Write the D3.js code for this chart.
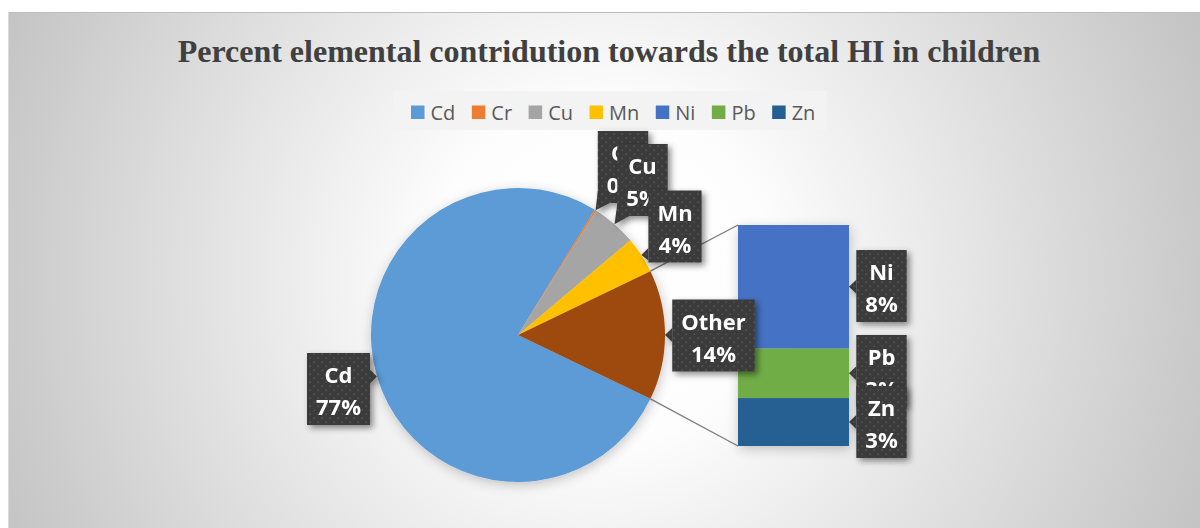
<!DOCTYPE html>
<html>
<head>
<meta charset="utf-8">
<script src="https://cdn.jsdelivr.net/npm/d3@7"></script>
<style>
  html, body { margin: 0; padding: 0; background: #ffffff; }
  svg { display: block; }
</style>
</head>
<body>
<svg id="chart" width="1200" height="528"></svg>
<script>
// Percent share of each element in the total hazard index (children)
const categories = ["Cd", "Cr", "Cu", "Mn", "Ni", "Pb", "Zn"];
const shares     = [76.6, 0.2, 4.9, 4.0, 8.0, 3.2, 3.1];
const colors     = ["#5b9bd5", "#ed7d31", "#a5a5a5", "#ffc000", "#4472c4", "#70ad47", "#255e91"];
// Elements split out of the pie into the stacked bar
const secondPlot = ["Ni", "Pb", "Zn"];
const otherName  = "Other";
const otherColor = "#9e480e";
const titleText  = "Percent elemental contridution towards the total HI in children";

const W = 1200, H = 528;
const svg = d3.select("#chart");
const defs = svg.append("defs");

// ---- background: radial grey gradient ----
const bg = defs.append("radialGradient").attr("id", "bgGrad")
  .attr("gradientUnits", "userSpaceOnUse")
  .attr("cx", 600).attr("cy", 275).attr("r", 680);
bg.append("stop").attr("offset", "0").attr("stop-color", "#ffffff");
bg.append("stop").attr("offset", "0.25").attr("stop-color", "#fdfdfd");
bg.append("stop").attr("offset", "1").attr("stop-color", "#c0c0c0");

// dotted texture for the data label boxes
const pat = defs.append("pattern").attr("id", "dots")
  .attr("patternUnits", "userSpaceOnUse").attr("width", 8).attr("height", 8);
pat.append("rect").attr("width", 8).attr("height", 8).attr("fill", "#3b3b3b");
pat.append("rect").attr("x", 1.5).attr("y", 1.5).attr("width", 1.4).attr("height", 1.4).attr("fill", "#575757");
pat.append("rect").attr("x", 5.5).attr("y", 5.5).attr("width", 1.4).attr("height", 1.4).attr("fill", "#575757");

const lblShadow = defs.append("filter").attr("id", "lblShadow")
  .attr("x", "-30%").attr("y", "-30%").attr("width", "170%").attr("height", "170%");
lblShadow.append("feDropShadow").attr("dx", 3).attr("dy", 3).attr("stdDeviation", 3)
  .attr("flood-color", "#000").attr("flood-opacity", 0.45);

const pieShadow = defs.append("filter").attr("id", "pieShadow")
  .attr("x", "-20%").attr("y", "-20%").attr("width", "140%").attr("height", "140%");
pieShadow.append("feDropShadow").attr("dx", 1).attr("dy", 3).attr("stdDeviation", 6)
  .attr("flood-color", "#000").attr("flood-opacity", 0.22);

svg.append("rect").attr("x", 8).attr("y", 12).attr("width", W - 8).attr("height", H - 12)
  .attr("fill", "url(#bgGrad)");
svg.append("line").attr("x1", 8).attr("x2", W).attr("y1", 12.5).attr("y2", 12.5)
  .attr("stroke", "#bdbdbd").attr("stroke-width", 1);
svg.append("line").attr("x1", 8.5).attr("x2", 8.5).attr("y1", 12).attr("y2", H)
  .attr("stroke", "#dadada").attr("stroke-width", 1);

// ---- title ----
svg.append("text").attr("x", 609).attr("y", 62).attr("text-anchor", "middle")
  .attr("font-family", "'Liberation Serif', 'Times New Roman', serif")
  .attr("font-weight", "bold").attr("font-size", 32).attr("fill", "#404040")
  .text(titleText);

// ---- legend ----
svg.append("rect").attr("x", 393).attr("y", 91).attr("width", 434).attr("height", 39)
  .attr("fill", "#f3f3f3");
const legend = svg.append("g").attr("font-family", "'Open Sans', sans-serif")
  .attr("font-size", 20).attr("fill", "#595959");
let lx = 411;
categories.forEach((c, i) => {
  legend.append("rect").attr("x", lx).attr("y", 105.5).attr("width", 13.5).attr("height", 13.5)
    .attr("fill", colors[i]);
  const t = legend.append("text").attr("x", lx + 19.5).attr("y", 119.5).text(c);
  lx += 19.5 + t.node().getComputedTextLength() + 16.5;
});

// ---- data prep ----
const total = d3.sum(shares);
const items = categories.map((c, i) => ({ name: c, value: shares[i], color: colors[i] }));
const secondItems = items.filter(d => secondPlot.includes(d.name));
const otherSum = d3.sum(secondItems, d => d.value);
const mainItems = items.filter(d => !secondPlot.includes(d.name))
  .concat([{ name: otherName, value: otherSum, color: otherColor }]);
const pct = d3.format(".0%");

// ---- main pie ----
const cx = 518, cy = 335, R = 147;
const otherAngle = 2 * Math.PI * otherSum / total;
const start = Math.PI / 2 + otherAngle / 2;
const pie = d3.pie().sort(null).value(d => d.value)
  .startAngle(start).endAngle(start + 2 * Math.PI);
const arcs = pie(mainItems);
const arc = d3.arc().innerRadius(0).outerRadius(R);
const onCircle = a => [cx + R * Math.sin(a), cy - R * Math.cos(a)];

// ---- secondary stacked bar ----
const barX0 = 738, barX1 = 849;
const yBar = d3.scaleLinear().domain([0, otherSum]).range([446, 225]);
let acc = 0;
const segs = secondItems.map(d => {
  const s = { ...d, top: yBar(otherSum - acc), bottom: yBar(otherSum - acc - d.value) };
  acc += d.value;
  return s;
});

// connector lines between the Other slice and the bar
const otherArc = arcs.find(a => a.data.name === otherName);
const pTop = onCircle(otherArc.startAngle);
const pBot = onCircle(otherArc.endAngle);
svg.append("line").attr("x1", pTop[0]).attr("y1", pTop[1]).attr("x2", barX0).attr("y2", yBar(otherSum))
  .attr("stroke", "#7f7f7f").attr("stroke-width", 1.4);
svg.append("line").attr("x1", pBot[0]).attr("y1", pBot[1]).attr("x2", barX0).attr("y2", yBar(0))
  .attr("stroke", "#7f7f7f").attr("stroke-width", 1.4);

svg.append("g").attr("transform", `translate(${cx},${cy})`).attr("filter", "url(#pieShadow)")
  .selectAll("path").data(arcs).join("path")
  .attr("d", arc).attr("fill", d => d.data.color);

svg.append("g").attr("filter", "url(#pieShadow)")
  .selectAll("rect").data(segs).join("rect")
  .attr("x", barX0).attr("width", barX1 - barX0)
  .attr("y", d => d.top).attr("height", d => d.bottom - d.top)
  .attr("fill", d => d.color);

// ---- data label callouts ----
const labelAt = {
  Cd: [338.5, 389], Cr: [623, 167], Cu: [642.5, 180], Mn: [675, 226.5],
  Other: [713.5, 335.5], Ni: [881.5, 286], Pb: [881.5, 371], Zn: [881.5, 422]
};
const labels = [];
arcs.forEach(a => {
  const mid = (a.startAngle + a.endAngle) / 2;
  labels.push({ name: a.data.name, text: pct(a.data.value / total), tip: onCircle(mid) });
});
segs.forEach(s => {
  labels.push({ name: s.name, text: pct(s.value / total), tip: [barX1, (s.top + s.bottom) / 2] });
});

function wedge(x0, y0, x1, y1, tx, ty) {
  const w = 7, c = 12;
  const clampY = v => Math.max(y0 + 2, Math.min(y1 - 2, v));
  const clampX = v => Math.max(x0 + 2, Math.min(x1 - 2, v));
  const left = tx < x0, right = tx > x1, above = ty < y0, below = ty > y1;
  if ((left || right) && (above || below)) {
    const ex = left ? x0 : x1, ey = above ? y0 : y1;
    const b1 = [ex, ey + (above ? c : -c)];
    const b2 = [ex + (left ? c : -c), ey];
    return [b1, [tx, ty], b2];
  }
  if (left || right) {
    const ex = left ? x0 : x1;
    return [[ex, clampY(ty - w)], [tx, ty], [ex, clampY(ty + w)]];
  }
  const ey = above ? y0 : y1;
  return [[clampX(tx - w), ey], [tx, ty], [clampX(tx + w), ey]];
}

const lblLayer = svg.append("g").attr("font-family", "'Open Sans', sans-serif")
  .attr("font-weight", 700).attr("font-size", 22).attr("fill", "#ffffff");
labels.forEach(l => {
  const [bx, by] = labelAt[l.name];
  const g = lblLayer.append("g").attr("filter", "url(#lblShadow)");
  const shape = g.append("g");
  const t1 = g.append("text").attr("x", bx).attr("y", by - 6).attr("text-anchor", "middle").text(l.name);
  const t2 = g.append("text").attr("x", bx).attr("y", by + 26).attr("text-anchor", "middle").text(l.text);
  const tw = Math.max(t1.node().getComputedTextLength(), t2.node().getComputedTextLength());
  const bw = tw + 18, bh = 72;
  const x0 = bx - bw / 2, y0 = by - bh / 2, x1 = x0 + bw, y1 = y0 + bh;
  const wg = wedge(x0, y0, x1, y1, l.tip[0], l.tip[1]);
  shape.append("rect").attr("x", x0).attr("y", y0).attr("width", bw).attr("height", bh)
    .attr("fill", "url(#dots)");
  shape.append("path").attr("d", d3.line()(wg) + "Z").attr("fill", "url(#dots)");
});
</script>
</body>
</html>
